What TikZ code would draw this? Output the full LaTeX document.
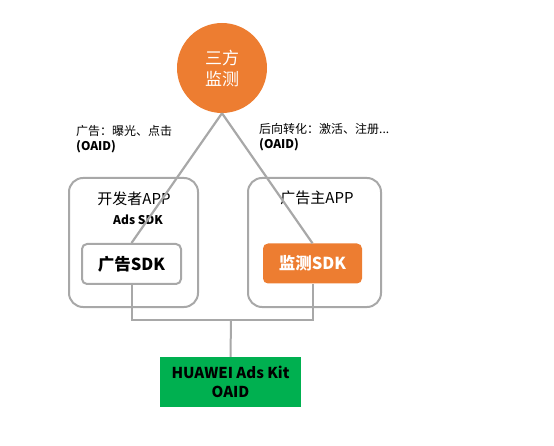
\documentclass[tikz,border=0pt]{standalone}
\usepackage{fontspec}
\setmainfont{Noto Sans CJK SC}
\usetikzlibrary{positioning}
\definecolor{monorange}{HTML}{ED7D31}
\definecolor{kitgreen}{HTML}{00B050}
\definecolor{linegray}{HTML}{A8A8A8}
\begin{document}
\begin{tikzpicture}[
  x=1pt, y=-1pt,
  appbox/.style={draw=linegray, line width=2pt, rounded corners=14pt, minimum height=129pt},
  sdkbox/.style={rounded corners=5pt, minimum width=99pt, minimum height=40pt, font=\bfseries\fontsize{16.5}{19}\selectfont},
  link/.style={draw=linegray, line width=2.2pt},
  note/.style={align=left, anchor=west, inner sep=0pt, font=\fontsize{12}{15}\selectfont},
  title/.style={inner sep=0pt, font=\fontsize{15}{18}\selectfont}
]
\useasboundingbox (0,0) rectangle (554,446);
\node[circle, fill=monorange, minimum size=90pt, text=white, align=center, font=\fontsize{17}{21}\selectfont] (monitor) at (222,68) {三方\\监测};
\node[appbox, minimum width=129pt] (devapp) at (133.5,242.5) {};
\node[appbox, minimum width=133pt] (advapp) at (314.5,242.5) {};
\node[title] (devtitle) at (134,199) {开发者APP};
\node[inner sep=0pt, font=\bfseries\fontsize{12}{14}\selectfont] (adslabel) at (138,220) {Ads SDK};
\node[title] (advtitle) at (317,198) {广告主APP};
\node[note] (exposure) at (76,139) {广告：曝光、点击\\\textbf{(OAID)}};
\node[note] (convert) at (259,137.5) {后向转化：激活、注册...\\\textbf{(OAID)}};
\coordinate (joint) at (231,320);
\node[sdkbox, draw=linegray, line width=2pt, fill=white] (adsdk) at (131.5,264) {广告SDK};
\node[sdkbox, fill=monorange, text=white] (monsdk) at (312.5,263.5) {监测SDK};
\node[fill=kitgreen, minimum width=141pt, minimum height=50pt, align=center, font=\bfseries\fontsize{15}{19}\selectfont] (kit) at (230.5,382) {HUAWEI Ads Kit\\OAID};
\draw[link] (monitor.south) -- (adsdk.north);
\draw[link] (monitor.south) -- (monsdk.north);
\draw[link, line width=2pt] (adsdk.south) |- (joint) -| (monsdk.south);
\draw[link, line width=2pt] (joint) -- (kit.north);
\end{tikzpicture}
\end{document}
